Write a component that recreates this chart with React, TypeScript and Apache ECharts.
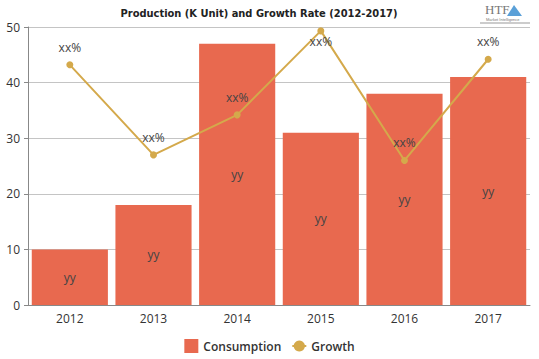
import React, { useEffect, useRef } from "react";
import * as echarts from "echarts";

const categories = ["2012", "2013", "2014", "2015", "2016", "2017"];
const consumption = [10, 18, 47, 31, 38, 41];
const growth = [43.2, 27, 34.2, 49.3, 26, 44.2];
const barLabels = ["yy", "yy", "yy", "yy", "yy", "yy"];
const growthLabels = ["xx%", "xx%", "xx%", "xx%", "xx%", "xx%"];
const yTicks = [0, 10, 20, 30, 40, 50];

export default function App() {
  const ref = useRef<HTMLDivElement>(null);
  useEffect(() => {
    if (!ref.current) return;
    const chart = echarts.init(ref.current, undefined, { renderer: "svg" });
    chart.setOption({
      animation: false,
      title: {
        text: "Production (K Unit) and Growth Rate (2012-2017)",
        left: 254,
        textAlign: "center",
        top: 3,
        textStyle: {
          fontFamily: "DejaVu Sans Condensed",
          fontWeight: "bold",
          fontSize: 11,
          color: "#222",
        },
      },
      graphic: [
        {
          type: "text",
          left: 485,
          top: 3,
          style: { text: "HTF", fontFamily: "Liberation Serif", fontSize: 13, fill: "#777" },
        },
        {
          type: "polygon",
          shape: { points: [[507, 16], [514, 5], [522, 16]] },
          style: { fill: "#5aa0d8" },
        },
        {
          type: "text",
          left: 486,
          top: 17,
          style: { text: "Market Intelligence", fontFamily: "Liberation Sans", fontSize: 4, fill: "#777" },
        },
        {
          type: "line",
          shape: { x1: 480, y1: 23, x2: 530, y2: 23 },
          style: { stroke: "#999", lineWidth: 1 },
        },
      ],
      legend: {
        bottom: 1,
        left: "center",
        itemWidth: 14,
        itemHeight: 14,
        itemGap: 10,
        textStyle: { fontFamily: "Open Sans", fontSize: 12, color: "#333", fontWeight: 600 },
        data: [
          { name: "Consumption", icon: "rect" },
          { name: "Growth" },
        ],
      },
      grid: { left: 28, right: 9, top: 27, bottom: 54 },
      xAxis: {
        type: "category",
        data: categories,
        axisLine: { lineStyle: { color: "#888" } },
        axisTick: { show: false },
        axisLabel: { fontFamily: "Open Sans", fontSize: 12, color: "#333", margin: 7 },
      },
      yAxis: {
        type: "value",
        min: yTicks[0],
        max: yTicks[yTicks.length - 1],
        interval: 10,
        axisLine: { show: true, lineStyle: { color: "#888" } },
        axisTick: { show: true, length: 4, lineStyle: { color: "#888" } },
        axisLabel: { fontFamily: "Open Sans", fontSize: 12, color: "#333", margin: 8 },
        splitLine: { lineStyle: { color: "#c4c4c4" } },
      },
      series: [
        {
          name: "Consumption",
          type: "bar",
          data: consumption.map((v, i) => ({ value: v, label: { formatter: barLabels[i] } })),
          barCategoryGap: "9%",
          itemStyle: { color: "#e8694f" },
          label: {
            show: true,
            position: "inside",
            fontFamily: "Open Sans",
            fontSize: 12,
            color: "#444",
          },
        },
        {
          name: "Growth",
          type: "line",
          data: growth.map((v, i) =>
            i === 3
              ? { value: v, label: { formatter: growthLabels[i], position: "inside", offset: [0, 11] } }
              : { value: v, label: { formatter: growthLabels[i] } }
          ),
          symbol: "circle",
          symbolSize: 7,
          lineStyle: { color: "#d4a94b", width: 2 },
          itemStyle: { color: "#d4a94b" },
          label: {
            show: true,
            position: "top",
            distance: 8,
            fontFamily: "Open Sans",
            fontSize: 12,
            color: "#444",
          },
        },
      ],
    });
    return () => chart.dispose();
  }, []);
  return (
    <div
      ref={ref}
      style={{ position: "absolute", left: 0, top: 0, width: 539, height: 359 }}
    />
  );
}
